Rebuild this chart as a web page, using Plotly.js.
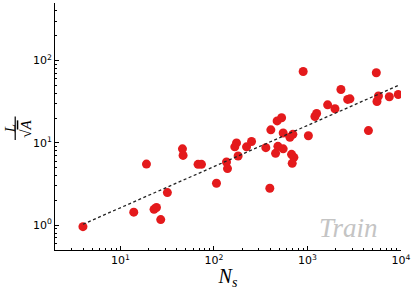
<!DOCTYPE html>
<html>
<head>
<meta charset="utf-8">
<script src="https://cdn.plot.ly/plotly-3.0.1.min.js"></script>
<style>html,body{margin:0;padding:0;background:#fff;}#chart{width:415px;height:290px;}</style>
</head>
<body>
<div id="chart"></div>
<script>
// Data (N_s, L/sqrt(A))
const ns = [3.98, 13.9, 19.0, 22.9, 24.3, 27.0, 31.8, 46.1, 46.8, 67.7, 73.6, 106.5, 136.4, 139.7,
  174.4, 167.2, 181.4, 223.2, 252.4, 359, 396, 406, 474, 529, 456, 483, 550, 676, 716, 687,
  550, 649, 698, 900, 1023, 1202, 1253, 1643, 1968, 2280, 2690, 2845, 4487, 5445, 5743, 5534, 7499, 9356];
const ratio = [0.96, 1.44, 5.53, 1.56, 1.64, 1.17, 2.49, 8.46, 7.05, 5.49, 5.49, 3.23, 5.85, 4.87,
  10.0, 8.95, 6.92, 8.95, 10.4, 8.75, 2.81, 14.4, 18.5, 20.2, 7.46, 9.07, 8.46, 7.26, 6.67, 5.64,
  13.2, 11.7, 12.7, 73.6, 12.2, 20.9, 22.8, 29.0, 26.0, 44.5, 33.7, 34.3, 14.1, 71.0, 37.1, 31.8, 36.3, 38.7];
// Power-law fit y = fitCoef * x^fitExp
const fitCoef = 0.515;
const fitExp = 0.5;
const xTickVals = [10, 100, 1000, 10000];
const xTickText = ['10<sup>1</sup>', '10<sup>2</sup>', '10<sup>3</sup>', '10<sup>4</sup>'];
const yTickVals = [1, 10, 100];
const yTickText = ['10<sup>0</sup>', '10<sup>1</sup>', '10<sup>2</sup>'];
const yLabelNum = '<i>L</i>';
const yLabelDen = '√<span style="text-decoration:overline"><i>A</i></span>';
const xLabel = '<i>N<sub>s</sub></i>';
const tagText = '<i>Train</i>';

const xMin = Math.min(...ns), xMax = Math.max(...ns);
const fitX = [], fitY = [];
for (let i = 0; i <= 50; i++) {
  const x = Math.pow(10, Math.log10(xMin) + (Math.log10(xMax) - Math.log10(xMin)) * i / 50);
  fitX.push(x); fitY.push(fitCoef * Math.pow(x, fitExp));
}
function minorVals(lo, hi) {
  const v = [];
  for (let d = lo; d <= hi; d++) for (let m = 2; m <= 9; m++) v.push(m * Math.pow(10, d));
  return v;
}

const traces = [
  {x: ns, y: ratio, mode: 'markers', type: 'scatter',
   marker: {color: '#e41a1c', size: 9, line: {width: 0}}, hoverinfo: 'skip'},
  {x: fitX, y: fitY, mode: 'lines', type: 'scatter',
   line: {color: '#222', width: 1.3, dash: '3px,2.5px'}, hoverinfo: 'skip'}
];
const tickFont = {family: 'DejaVu Sans', size: 11, color: '#000'};
const layout = {
  width: 415, height: 290,
  margin: {l: 55, r: 14, t: 3, b: 40},
  paper_bgcolor: '#fff', plot_bgcolor: '#fff',
  showlegend: false,
  xaxis: {type: 'log', range: [Math.log10(2), 4], showgrid: false, zeroline: false,
    showline: true, linecolor: '#000', linewidth: 1, mirror: false,
    ticks: 'inside', ticklen: 4, tickcolor: '#000', tickmode: 'array',
    tickvals: xTickVals, ticktext: xTickText, tickfont: tickFont,
    minor: {ticks: 'inside', ticklen: 2, tickcolor: '#000', tickmode: 'array', tickvals: minorVals(0, 3), showgrid: false},
    title: {text: xLabel, font: {family: 'Liberation Serif', size: 20, color: '#000'}, standoff: 1}},
  yaxis: {type: 'log', range: [Math.log10(0.5), Math.log10(500)], showgrid: false, zeroline: false,
    showline: true, linecolor: '#000', linewidth: 1, mirror: false,
    ticks: 'inside', ticklen: 4, tickcolor: '#000', tickmode: 'array',
    tickvals: yTickVals, ticktext: yTickText, tickfont: tickFont,
    minor: {ticks: 'inside', ticklen: 2, tickcolor: '#000', tickmode: 'array', tickvals: minorVals(-1, 2), showgrid: false}},
  annotations: [
    {xref: 'paper', yref: 'paper', x: 0.94, y: 0.09, xanchor: 'right', yanchor: 'middle',
     text: tagText, showarrow: false,
     font: {family: 'Liberation Serif', size: 27, color: '#c4c4c4'}},
    {xref: 'paper', yref: 'paper', x: -0.128, y: 0.492, xanchor: 'center', yanchor: 'middle',
     text: yLabelNum, textangle: -90, showarrow: false,
     font: {family: 'Liberation Serif', size: 15, color: '#000'}},
    {xref: 'paper', yref: 'paper', x: -0.083, y: 0.492, xanchor: 'center', yanchor: 'middle',
     text: yLabelDen, textangle: -90, showarrow: false,
     font: {family: 'Liberation Serif', size: 15, color: '#000'}}
  ],
  shapes: [
    {type: 'line', xref: 'paper', yref: 'paper', x0: -0.115, x1: -0.115, y0: 0.445, y1: 0.54,
     line: {color: '#000', width: 1.2}}
  ]
};
Plotly.newPlot('chart', traces, layout, {staticPlot: true, displayModeBar: false});
</script>
</body>
</html>
